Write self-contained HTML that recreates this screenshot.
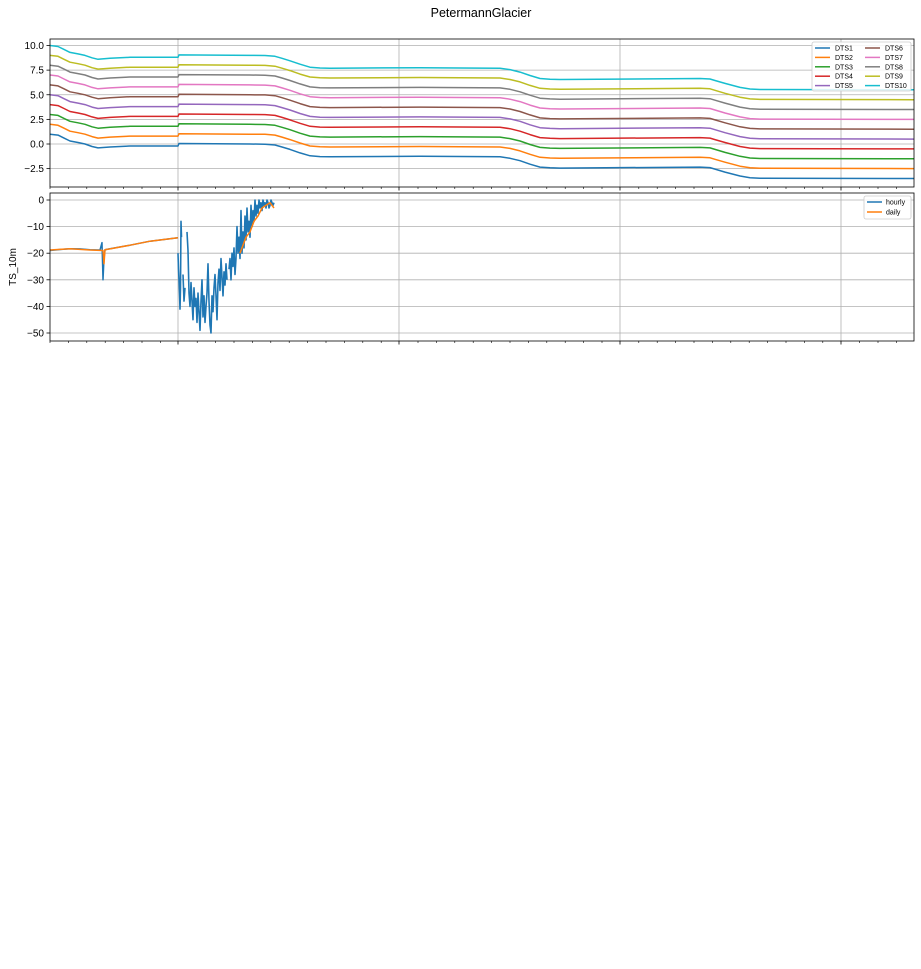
<!DOCTYPE html>
<html><head><meta charset="utf-8"><style>
body{margin:0;background:#fff;font-family:"Liberation Sans","DejaVu Sans",sans-serif}
svg text{font-family:"Liberation Sans","DejaVu Sans",sans-serif}
</style></head><body>
<svg id="c" width="921" height="964" xmlns="http://www.w3.org/2000/svg">
<text x="481" y="17" font-size="12.5" text-anchor="middle">PetermannGlacier</text>
</svg>
<script>
const dtsTime = [0,8,14,20,28,35,42,48,60,80,128,129,200,215,225,232,240,250,260,270,280,370,450,460,470,480,490,500,510,650,660,665,675,690,700,710,864];
const dts1 = [1.0,0.9,0.6,0.3,0.15,0.0,-0.25,-0.4,-0.3,-0.2,-0.2,0.05,0.0,-0.02,-0.1,-0.3,-0.55,-0.9,-1.2,-1.28,-1.3,-1.25,-1.3,-1.45,-1.7,-2.05,-2.35,-2.42,-2.45,-2.35,-2.4,-2.55,-2.85,-3.25,-3.42,-3.47,-3.5];
const dtsOffsets = [0,1,2,3,4,5,6,7,8,9];
const dtsNames = ["DTS1","DTS2","DTS3","DTS4","DTS5","DTS6","DTS7","DTS8","DTS9","DTS10"];
const topTicks = [10.0,7.5,5.0,2.5,0.0,-2.5];
const botTicks = [0,-10,-20,-30,-40,-50];
const hourlyTime1 = [0,10,20,30,40,50,52,53,54,55,56,60,80,100,128];
const hourlyVals1 = [-19,-18.6,-18.3,-18.4,-18.7,-18.8,-16,-30,-22,-18.7,-18.6,-18.3,-17,-15.5,-14.2];
const hourlyTime2 = [128,128.5,129,129.5,130,130.5,131,131.5,132,133,134,135,136,137,138,139,140,141,142,143,144,145,146,147,148,149,150,151,152,153,154,155,156,157,158,159,160,161,162,163,164,165,166,167,168,169,170,171,172,173,174,175,176,177,178,179,180,181,182,183,184,185,186,187,188,189,190,191,192,193,194,195,196,197,198,199,200,201,202,203,204,205,206,207,208,209,210,211,212,213,214,215,216,217,218,219,220,221,222,223,224];
const hourlyVals2 = [-20,-26,-30,-35,-41,-33,-8,-14,null,-28,-38,-33,null,-12,-19,-35,-40,-31,-38,-45,-33,-40,-37,-46,-35,-42,-49,-38,-30,-44,-36,-46,-40,-35,-24,-38,-47,-50,-36,-42,-33,-28,-36,-45,-31,-26,-34,-22,-29,-36,-27,-32,-24,-30,null,-26,-22,-30,-20,-25,-18,-28,-22,-10,-20,-14,-22,-4,-20,-12,-18,-6,-15,-3,-12,-8,-14,-2,-10,-4,-8,0,-6,-2,-5,0,-3,-1,-4,0,-2,-1,-3,0,-1,-3,-2,0,-1,-2,-1];
const dailyTime = [0,20,40,53,54,55,60,80,100,128,190,196,200,204,208,212,216,220,224];
const dailyVals = [-18.8,-18.3,-18.8,-19,-24,-18.7,-18.4,-17,-15.5,-14.2,-20,-14,-12,-8,-6,-3,-2,-1,-3];

const svg=document.getElementById('c'), NS="http://www.w3.org/2000/svg";
function mk(t,a,p){const e=document.createElementNS(NS,t);for(const k in a)e.setAttribute(k,a[k]);(p||svg).appendChild(e);return e;}
const X0=50,X1=914,TMAX=864;
const xs=t=>X0+(t/TMAX)*(X1-X0);
const topY=v=>144-v*9.85;
const botY=v=>200-v*(133/50);
const colors=["#1f77b4","#ff7f0e","#2ca02c","#d62728","#9467bd","#8c564b","#e377c2","#7f7f7f","#bcbd22","#17becf"];
const gridX=[128,349,570,791];
function axes(y0,y1,ticks,ys,name){
  for(const g of gridX){const l=mk('line',{x1:xs(g),x2:xs(g),y1:y0,y2:y1,stroke:'#b0b0b0','stroke-width':0.8});
    }
  for(const t of ticks){const y=ys(t);
    const l=mk('line',{x1:X0,x2:X1,y1:y,y2:y,stroke:'#b0b0b0','stroke-width':0.8});
    
    mk('line',{x1:X0-3.5,x2:X0,y1:y,y2:y,stroke:'#000','stroke-width':0.8});
    const tx=mk('text',{x:X0-6,y:y+3.5,'font-size':10,'text-anchor':'end'});
    tx.textContent=(ys===topY?t.toFixed(1):String(t)).replace('-','\u2212');
    }
  for(let t=0;t<=TMAX;t+=18.4){const maj=gridX.some(g=>Math.abs(g-t)<5);
    if(!maj)mk('line',{x1:xs(t),x2:xs(t),y1:y1,y2:y1+2,stroke:'#000','stroke-width':0.6});}
  for(const g of gridX)mk('line',{x1:xs(g),x2:xs(g),y1:y1,y2:y1+3.5,stroke:'#000','stroke-width':0.8});
}
function frame(y0,y1,name){const r=mk('rect',{x:X0,y:y0,width:X1-X0,height:y1-y0,fill:'none',stroke:'#000','stroke-width':0.8});
  }
function line(ts,vs,ys,col,w,name){let d='',pen=false;
  ts.forEach((t,i)=>{if(vs[i]===null){pen=false;return;}d+=(pen?'L':'M')+xs(t).toFixed(1)+' '+ys(vs[i]).toFixed(1);pen=true;});
  const p=mk('path',{d:d,fill:'none',stroke:col,'stroke-width':w,'stroke-linejoin':'round'});
  return p;}

axes(39,187,topTicks,topY,'top');
dtsOffsets.forEach((o,k)=>line(dtsTime,dts1.map(v=>v+o),topY,colors[k],1.5,'series-'+dtsNames[k].toLowerCase()));
frame(39,187,'top-axes');

axes(193,341,botTicks,botY,'bottom');
line(hourlyTime1,hourlyVals1,botY,colors[0],1.5,'series-hourly-part1');
line(hourlyTime2,hourlyVals2,botY,colors[0],1.6,'series-hourly-part2');
line(dailyTime.slice(0,10),dailyVals.slice(0,10),botY,colors[1],1.5,'series-daily-part1');
line(dailyTime.slice(10),dailyVals.slice(10),botY,colors[1],1.5,'series-daily-part2');
frame(193,341,'bottom-axes');
const yl=mk('text',{x:16,y:267,'font-size':10,'text-anchor':'middle',transform:'rotate(-90 16 267)'});
yl.textContent='TS_10m';

const lg=mk('g',{});
mk('rect',{x:812,y:42,width:99,height:49,fill:'#fff','fill-opacity':0.85,stroke:'#ccc','stroke-width':0.8,rx:2},lg);
dtsNames.forEach((n,k)=>{const c=k<5?0:1,r=k%5;const x=815+c*50,y=48+r*9.4;
  mk('line',{x1:x,x2:x+15,y1:y,y2:y,stroke:colors[k],'stroke-width':1.5},lg);
  const t=mk('text',{x:x+20,y:y+2.5,'font-size':7},lg);t.textContent=n;
  });
const lb=mk('g',{});
mk('rect',{x:864,y:196,width:47,height:23,fill:'#fff','fill-opacity':0.85,stroke:'#ccc','stroke-width':0.8,rx:2},lb);
[['hourly',colors[0]],['daily',colors[1]]].forEach((e,i)=>{const y=202+i*10;
  mk('line',{x1:867,x2:882,y1:y,y2:y,stroke:e[1],'stroke-width':1.5},lb);
  const t=mk('text',{x:886,y:y+2.5,'font-size':7},lb);t.textContent=e[0];
  });
</script>
</body></html>
